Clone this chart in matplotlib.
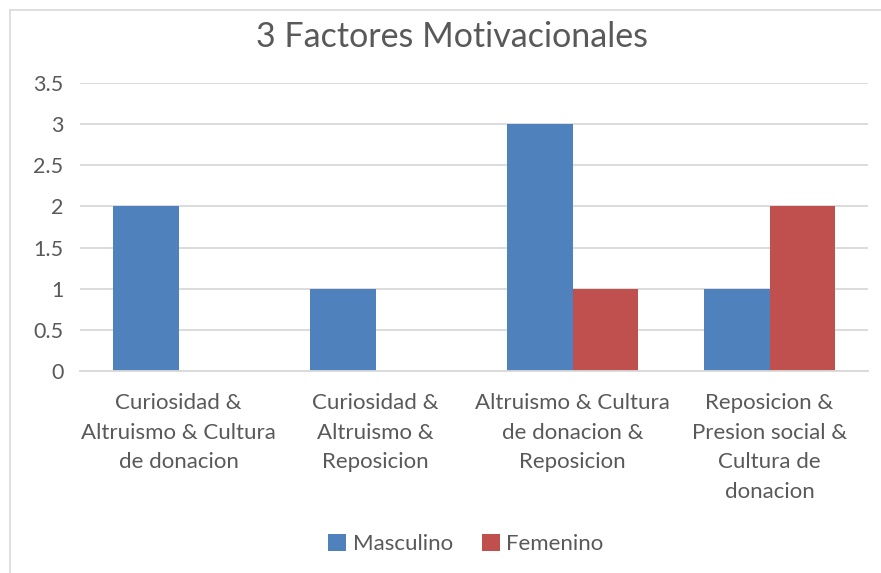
import matplotlib
matplotlib.use("Agg")
import matplotlib.pyplot as plt
import numpy as np
from matplotlib.lines import Line2D
from matplotlib.patches import Patch

categories = ["Curiosidad &\nAltruismo & Cultura\nde donacion",
              "Curiosidad &\nAltruismo &\nReposicion",
              "Altruismo & Cultura\nde donacion &\nReposicion",
              "Reposicion &\nPresion social &\nCultura de\ndonacion"]
masculino = [2, 1, 3, 1]
femenino = [0, 0, 1, 2]
yticks = [0, 0.5, 1, 1.5, 2, 2.5, 3, 3.5]
yticklabels = ["0", "0.5", "1", "1.5", "2", "2.5", "3", "3.5"]
title = "3 Factores Motivacionales"

plt.rcParams['font.family'] = ['Lato', 'DejaVu Sans']
W, H = 881, 573
fig = plt.figure(figsize=(W/100, H/100), dpi=100)
fig.patch.set_facecolor("white")

ax = fig.add_axes([80/W, 1-371/H, (868-80)/W, (371-83)/H])
x = np.arange(len(categories))
bw = 0.335
blue = "#4F81BD"
red = "#C0504D"
ax.bar(x - bw/2, masculino, bw, color=blue)
ax.bar(x + bw/2, femenino, bw, color=red)
ax.set_xlim(-0.5, len(categories)-0.5)
ax.set_ylim(0, 3.5)
ax.set_yticks(yticks)
ax.set_yticklabels(yticklabels)
ax.set_xticks(x)
ax.set_xticklabels(categories, linespacing=1.6)
ax.yaxis.grid(True, color="#D9D9D9", linewidth=1.3)
ax.set_axisbelow(True)
for s in ["top", "right", "left"]:
    ax.spines[s].set_visible(False)
ax.spines["bottom"].set_color("#D9D9D9")
ax.spines["bottom"].set_linewidth(1.3)
ax.tick_params(axis="both", length=0, labelsize=16, labelcolor="#595959")
ax.tick_params(axis="y", pad=12, labelsize=15.5)
ax.tick_params(axis="x", pad=16)

fig.text(452/W, 1-37/H, title, ha="center", va="center",
         fontsize=24.5, color="#595959")

handles = [Patch(facecolor=blue, label="Masculino"), Patch(facecolor=red, label="Femenino")]
fig.legend(handles=handles, loc="center", bbox_to_anchor=(466/W, 1-544/H), ncol=2,
           frameon=False, fontsize=16, labelcolor="#595959", handlelength=0.8,
           handleheight=0.8, handletextpad=0.3, columnspacing=1.3)

fig.add_artist(Line2D([10/W, 1], [1-10/H, 1-10/H], color="#D9D9D9", linewidth=1.2))
fig.add_artist(Line2D([10/W, 10/W], [0, 1-10/H], color="#D9D9D9", linewidth=1.2))

fig.savefig("out.png", dpi=100)
